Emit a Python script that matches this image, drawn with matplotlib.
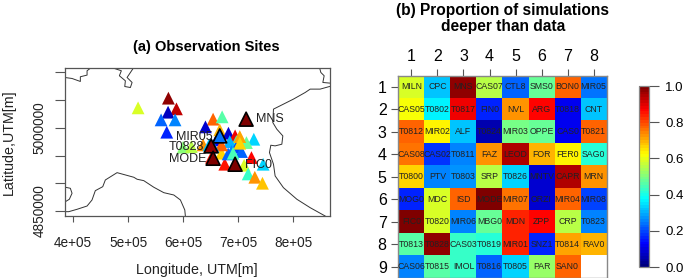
import numpy as np
import matplotlib
matplotlib.use('Agg')
import matplotlib.pyplot as plt
from matplotlib.colors import LinearSegmentedColormap

plt.rcParams['font.family'] = ['Liberation Sans', 'DejaVu Sans']

W, H = 685, 278

# sites: x, y (UTM), proportion
site_x = [518200, 573300, 587900, 572700, 560000, 585400, 570300, 654500, 670900, 640600,
          728500, 715100, 724200, 745400, 710900, 675700, 718200, 730300, 744200, 600000,
          615100, 636300, 647200, 660600, 666600, 682400, 694500, 696900, 684800, 696900,
          687900, 706000, 669700, 681800, 651500, 669700, 703000, 654500, 703000, 690900]
site_y = [5036100, 5053600, 5034300, 5028300, 5014400, 5014400, 4992200, 5015700, 5019900, 5001800,
          4979500, 4973500, 4946400, 4934400, 4932600, 4934400, 4916900, 4910900, 4900100, 4965100,
          4966300, 4969300, 4969300, 4978300, 4996400, 4990400, 4985500, 4975300, 4975300, 4965100,
          4957300, 4957300, 4954200, 4953000, 4947000, 4969300, 4984300, 4966300, 4972300, 4954200]
site_p = [0.58, 0.97, 0.93, 0.07, 0.23, 0.25, 0.17, 0.78, 0.46, 0.09,
          0.33, 0.47, 0.87, 0.33, 0.59, 0.85, 0.43, 0.72, 0.68, 0.50,
          0.55, 0.72, 0.32, 0.14, 0.69, 0.09, 0.88, 0.42, 0.31, 0.20,
          0.25, 0.23, 0.67, 0.22, 0.85, 0.78, 0.71, 0.29, 0.67, 0.45]

# highlighted sites
hi_names = ['MNS', 'MIR05', 'T0828', 'MODE', 'FIC0']
hi_x = [714500, 666600, 650900, 654500, 694500]
hi_y = [5015700, 4985500, 4967500, 4945200, 4934400]
hi_p = [1.0, 0.24, 0.97, 1.0, 1.0]
hi_ha = ['left', 'right', 'right', 'right', 'left']
hi_ty = [5015700, 4984000, 4966000, 4944500, 4933000]

# coast and border outlines, UTM
coast_lig_x = [380000, 392200, 407300, 425500, 434500, 440500, 454000, 458700, 480000, 510400,
               516400, 528500, 546700, 564900, 583100, 595100, 603100, 604200]
coast_lig_y = [4848800, 4848800, 4853100, 4859000, 4869900, 4886700, 4893900, 4906000, 4919200, 4910900,
               4907300, 4904800, 4892900, 4883100, 4878900, 4869900, 4851800, 4839700]
coast_adr_x = [866000, 849000, 830900, 821800, 800500, 782300, 764200, 763000, 770300, 781200,
               779400, 767200, 759400, 756900, 764200, 767200, 782300, 806700, 830900, 858100]
coast_adr_y = [5074600, 5069900, 5069900, 5063800, 5051900, 5042800, 5033800, 5009600, 4997600, 4985500,
               4970500, 4967500, 4968700, 4955400, 4934400, 4913300, 4892100, 4871200, 4856000, 4841000]
border_a_x = [384900, 398200, 413300, 413300, 425500, 425500, 433300]
border_a_y = [5090900, 5089100, 5083700, 5092200, 5095200, 5103000, 5109000]
border_b_x = [469600, 487800, 484200, 495100, 494000, 504200, 507300, 498200, 510400]
border_b_y = [5109000, 5103000, 5094000, 5084900, 5074600, 5072800, 5081900, 5090900, 5109000]
border_c_x = [847800, 850300, 856300, 853900, 866000]
border_c_y = [5109000, 5099900, 5094000, 5081900, 5080800]
border_d_x = [386000, 395100, 398200, 393300, 386000]
border_d_y = [4892900, 4891000, 4882000, 4871200, 4866800]

# heat table
names = [
    ['MILN', 'CPC', 'MNS', 'CAS07', 'CTL8', 'SMS0', 'BON0', 'MIR05'],
    ['CAS05', 'T0802', 'T0817', 'FIN0', 'NVL', 'ARG', 'T0818', 'CNT'],
    ['T0812', 'MIR02', 'ALF', 'T0824', 'MIR03', 'OPPE', 'CAS0', 'T0821'],
    ['CAS08', 'CAS02', 'T0811', 'FAZ', 'LEOD', 'FOR', 'FER0', 'SAG0'],
    ['T0800', 'PTV', 'T0803', 'SRP', 'T0826', 'MNTV', 'CAPR', 'MRN'],
    ['MOG0', 'MDC', 'ISD', 'MODE', 'MIR07', 'ORZI', 'MIR04', 'MIR08'],
    ['FIC0', 'T0820', 'MIR06', 'MBG0', 'MDN', 'ZPP', 'CRP', 'T0823'],
    ['T0813', 'T0828', 'CAS03', 'T0819', 'MIR01', 'SNZ1', 'T0814', 'RAV0'],
    ['CAS06', 'T0815', 'IMOL', 'T0816', 'T0805', 'PAR', 'SAN0', ''],
]
prop = [
    [0.58, 0.32, 0.97, 0.55, 0.23, 0.47, 0.78, 0.24],
    [0.62, 0.37, 0.88, 0.17, 0.73, 0.87, 0.12, 0.32],
    [0.78, 0.63, 0.32, 0.06, 0.49, 0.47, 0.11, 0.78],
    [0.75, 0.18, 0.25, 0.72, 0.95, 0.69, 0.64, 0.41],
    [0.67, 0.25, 0.27, 0.55, 0.33, 0.09, 0.95, 0.72],
    [0.17, 0.59, 0.78, 1.00, 0.75, 0.09, 0.78, 0.19],
    [1.00, 0.59, 0.26, 0.47, 0.83, 0.87, 0.55, 0.25],
    [0.46, 0.97, 0.43, 0.42, 0.83, 0.17, 0.71, 0.69],
    [0.25, 0.46, 0.43, 0.22, 0.33, 0.52, 0.78, np.nan],
]

stops = [(0, '#00007f'), (0.125, '#0000ff'), (0.375, '#00ffff'), (0.625, '#ffff00'), (0.875, '#ff0000'), (1, '#7f0000')]
cmap = LinearSegmentedColormap.from_list('tim', stops, N=64)
FRAME = '#555555'
TXT = '#222222'


def px_axes(fig, l, t, r, b):
    return fig.add_axes([l / W, 1 - b / H, (r - l) / W, (b - t) / H])


fig = plt.figure(figsize=(W / 100, H / 100), dpi=100)

# (a) map
ax = px_axes(fig, 64.5, 68, 329.5, 216)
ax.set_xlim(384500, 866000)
ax.set_ylim(4841000, 5108000)
for cx, cy in [(coast_lig_x, coast_lig_y), (coast_adr_x, coast_adr_y), (border_a_x, border_a_y),
               (border_b_x, border_b_y), (border_c_x, border_c_y), (border_d_x, border_d_y)]:
    ax.plot(cx, cy, color='#333333', lw=0.7)
ax.scatter(site_x, site_y, c=site_p, cmap=cmap, vmin=0, vmax=1, marker='^', s=85, linewidths=0, zorder=3)
ax.scatter(hi_x, hi_y, c=hi_p, cmap=cmap, vmin=0, vmax=1, marker='^', s=100,
           edgecolors='black', linewidths=1.2, zorder=4)
for n, x, y, ha in zip(hi_names, hi_x, hi_ty, hi_ha):
    dx = 18000 if ha == 'left' else -13000
    ax.text(x + dx, y, n, ha=ha, va='center', fontsize=9, color=TXT, zorder=5)
ax.set_xticks([400000, 500000, 600000, 700000, 800000])
ax.set_xticklabels(['4e+05', '5e+05', '6e+05', '7e+05', '8e+05'], fontsize=9.8, color=TXT)
ax.set_yticks([4850000, 4900000, 4950000, 5000000, 5050000, 5100000])
ax.set_yticklabels(['4850000', '', '', '5000000', '', ''], fontsize=9.8, rotation=90, va='center', color=TXT)
ax.tick_params(axis='x', length=4.5, width=0.8, color=FRAME, pad=10)
ax.tick_params(axis='y', length=7, width=0.8, color=FRAME, pad=6)
ax.set_xlabel('Longitude, UTM[m]', fontsize=10.3, labelpad=9, color=TXT)
ax.set_ylabel('Latitude,UTM[m]', fontsize=10.3, labelpad=12, color=TXT)
for s in ax.spines.values():
    s.set_color(FRAME)
    s.set_linewidth(0.9)
fig.text(206 / W, 1 - 47 / H, '(a) Observation Sites', ha='center', va='center', fontsize=10.5, fontweight='bold')

# (b) heat table
ax2 = px_axes(fig, 398.5, 75.5, 606.5, 278)
pm = ax2.imshow(np.ma.masked_invalid(prop), cmap=cmap, vmin=0, vmax=1, aspect='auto', interpolation='nearest')
for i, row in enumerate(names):
    for j, n in enumerate(row):
        ax2.text(j, i, n, ha='center', va='center', fontsize=6.3, color=TXT)
ax2.set_xticks(range(8))
ax2.set_xticklabels([str(i + 1) for i in range(8)], fontsize=11.5)
ax2.set_yticks(range(9))
ax2.set_yticklabels([str(i + 1) for i in range(9)], fontsize=11.5)
ax2.xaxis.tick_top()
ax2.tick_params(length=5, width=0.8, color=FRAME, pad=3.5)
for s in ax2.spines.values():
    s.set_color('#888888')
    s.set_linewidth(1.0)
fig.text(503 / W, 1 - 18.5 / H, '(b) Proportion of simulations\ndeeper than data', ha='center', va='center',
         fontsize=11.2, fontweight='bold', linespacing=1.1)

# colour bar
cax = px_axes(fig, 639, 86, 648.5, 267)
cb = fig.colorbar(pm, cax=cax)
cb.set_ticks([0, 0.2, 0.4, 0.6, 0.8, 1.0])
cb.set_ticklabels(['0.0', '0.2', '0.4', '0.6', '0.8', '1.0'])
cb.ax.tick_params(length=7, width=0.8, color=FRAME, labelsize=9.5, pad=5)
cb.outline.set_edgecolor('#888888')
cb.outline.set_linewidth(0.9)

fig.savefig('out.png', dpi=100)
